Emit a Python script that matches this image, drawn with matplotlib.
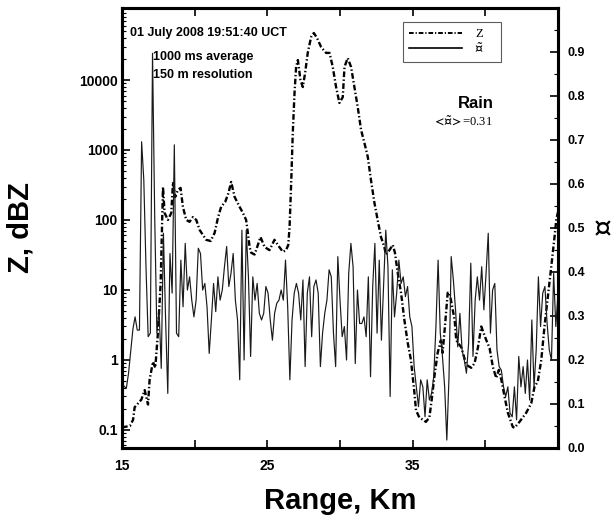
import numpy as np
import matplotlib
matplotlib.use("Agg")
import matplotlib.pyplot as plt
from matplotlib.ticker import LogLocator, MultipleLocator, NullFormatter
from matplotlib.lines import Line2D

plt.rcParams['font.family'] = ['Liberation Sans', 'DejaVu Sans']
plt.rcParams['font.weight'] = 'bold'
plt.rcParams['axes.labelweight'] = 'bold'
plt.rcParams['mathtext.fontset'] = 'stix'

# reflectivity Z (dash-dot, left log axis)
z_range = [15.0, 15.19, 15.55, 15.76, 15.87, 16.33, 16.56, 16.79, 16.90, 17.13,
           17.29, 17.47, 17.66, 17.82, 17.93, 18.16, 18.39, 18.51, 18.66, 18.85,
           19.03, 19.19, 19.42, 19.65, 19.88, 20.11, 20.34, 20.57, 20.79, 21.10,
           21.37, 21.60, 21.82, 22.10, 22.33, 22.51, 22.75, 23.09, 23.32, 23.54,
           23.66, 23.78, 23.89, 24.12, 24.30, 24.53, 24.81, 25.15, 25.49, 25.72,
           26.07, 26.29, 26.44, 26.53, 26.64, 26.75, 26.87, 26.98, 27.10, 27.28,
           27.44, 27.60, 27.78, 28.01, 28.20, 28.42, 28.70, 29.04, 29.28, 29.50,
           29.73, 29.96, 30.19, 30.31, 30.53, 30.76, 30.99, 31.22, 31.45, 31.68,
           31.91, 32.13, 32.37, 32.59, 32.82, 33.05, 33.16, 33.40, 33.63, 33.78,
           33.97, 34.20, 34.43, 34.66, 34.88, 35.12, 35.23, 35.46, 35.69, 35.91,
           36.15, 36.31, 36.49, 36.72, 36.94, 37.06, 37.22, 37.41, 37.54, 37.89,
           38.00, 38.35, 38.69, 39.03, 39.26, 39.49, 39.72, 40.07, 40.29, 40.52,
           40.75, 40.93, 41.10, 41.32, 41.55, 41.89, 42.01, 42.35, 42.81, 43.16,
           43.38, 43.61, 43.85, 44.07, 44.30, 44.53, 44.76, 44.88, 45.0]
z_vals = [0.11, 0.11, 0.114, 0.139, 0.21, 0.27, 0.37, 0.23, 0.52, 0.94,
          0.77, 2.4, 12.6, 296, 126, 100, 126, 349, 213, 269,
          287, 154, 100, 94, 110, 100, 72, 61, 52, 50,
          65, 107, 154, 181, 244, 349, 213, 154, 126, 100,
          65, 41, 34, 32, 41, 57, 41, 37, 52, 44,
          35, 37, 44, 79, 336, 1740, 6500, 15400, 19300, 10000,
          7940, 12600, 24400, 41000, 47000, 39800, 29600, 24400, 24400, 15400,
          7940, 4700, 5700, 15400, 20600, 15400, 7940, 4100, 1930, 1260,
          800, 373, 175, 100, 57, 41, 32, 37, 44, 34,
          17.5, 9.1, 3.7, 1.75, 1.0, 0.34, 0.19, 0.15, 0.14, 0.13,
          0.15, 0.27, 0.57, 1.26, 1.9, 1.26, 3.0, 9.1, 9.1, 3.7,
          1.9, 1.5, 0.85, 0.77, 0.9, 1.5, 3.0, 1.9, 1.48, 0.79,
          0.55, 0.72, 0.52, 0.30, 0.175, 0.11, 0.107, 0.13, 0.175, 0.24,
          0.41, 0.49, 1.0, 3.0, 7.9, 21, 57, 100, 130]

# F tilde (solid, right axis), one value per 150 m gate from 15 km
f_vals = [0.147, 0.14, 0.136, 0.17, 0.22, 0.27, 0.298, 0.268, 0.268, 0.696,
          0.609, 0.412, 0.253, 0.261, 0.897, 0.526, 0.261, 0.314, 0.181, 0.488,
          0.291, 0.124, 0.442, 0.352, 0.689, 0.261, 0.253, 0.427, 0.321, 0.465,
          0.359, 0.389, 0.336, 0.298, 0.336, 0.454, 0.442, 0.359, 0.374, 0.321,
          0.215, 0.291, 0.374, 0.310, 0.389, 0.336, 0.359, 0.412, 0.458, 0.367,
          0.397, 0.442,
          0.336, 0.291, 0.155, 0.495, 0.2, 0.495, 0.389, 0.208, 0.389, 0.336,
          0.374, 0.306, 0.291, 0.306, 0.367, 0.352, 0.291, 0.245, 0.306, 0.329,
          0.336, 0.359, 0.336, 0.427, 0.321, 0.155, 0.291, 0.352, 0.374, 0.352,
          0.291, 0.382, 0.185, 0.352, 0.389, 0.253, 0.367, 0.382, 0.352, 0.185,
          0.261, 0.306, 0.336, 0.405, 0.389, 0.261, 0.185, 0.435, 0.336, 0.253,
          0.276, 0.2, 0.397, 0.465, 0.412, 0.192, 0.359, 0.283, 0.283, 0.298,
          0.253, 0.389, 0.162, 0.367, 0.465, 0.261, 0.427, 0.245, 0.367, 0.495,
          0.412, 0.117, 0.405, 0.298, 0.352, 0.427, 0.374, 0.389, 0.344, 0.367,
          0.298, 0.276, 0.185, 0.139, 0.094, 0.155, 0.139, 0.071, 0.155, 0.109,
          0.124, 0.162, 0.276, 0.427, 0.261, 0.208, 0.139, 0.018, 0.162, 0.435,
          0.382, 0.314, 0.23, 0.306, 0.223, 0.2, 0.17, 0.238, 0.42, 0.208,
          0.336, 0.389, 0.336, 0.412, 0.314, 0.397, 0.488, 0.261, 0.359, 0.374,
          0.223, 0.185, 0.177, 0.139, 0.117, 0.139, 0.079, 0.071, 0.139, 0.064,
          0.208, 0.139, 0.185, 0.124, 0.2, 0.109, 0.291, 0.139, 0.223, 0.389,
          0.276, 0.352, 0.367, 0.283, 0.223, 0.2, 0.397, 0.276, 0.352, 0.245]
f_range = 15 + 0.15 * np.arange(len(f_vals))

z_ticks = [0.1, 1, 10, 100, 1000, 10000]
z_labels = ['0.1', '1', '10', '100', '1000', '10000']
f_ticks = [0.0, 0.1, 0.2, 0.3, 0.4, 0.5, 0.6, 0.7, 0.8, 0.9]
f_labels = ['0.0', '0.1', '0.2', '0.3', '0.4', '0.5', '0.6', '0.7', '0.8', '0.9']

fig = plt.figure(figsize=(6.14, 5.16), dpi=100)
ax = fig.add_axes([0.1987, 0.1318, 0.7101, 0.8527])
ax2 = ax.twinx()

zstyle = (0, (2.4, 1.0, 0.6, 1.0))
ax.plot(z_range, z_vals, color='black', lw=1.7, ls=zstyle)
ax2.plot(f_range, f_vals, color='#1a1a1a', lw=0.85)

ax.set_xlim(15, 45)
ax.set_yscale('log')
ax.set_ylim(0.055, 1.07e5)
ax2.set_ylim(0, 1.0)

ax.set_xticks([15, 25, 35])
ax.set_xticks([20, 30, 40], minor=True)
ax.tick_params(axis='x', which='both', direction='in', top=True, length=6, width=1.2,
               labelsize=10, pad=8)
ax.set_yticks(z_ticks)
ax.set_yticklabels(z_labels)
ax.yaxis.set_minor_locator(LogLocator(base=10, subs=np.arange(2, 10)))
ax.yaxis.set_minor_formatter(NullFormatter())
ax.tick_params(axis='y', which='major', direction='in', length=6, width=1.2, labelsize=10, pad=3)
ax.tick_params(axis='y', which='minor', direction='in', length=3, width=0.8)

ax2.set_yticks(f_ticks)
ax2.set_yticklabels(f_labels)
ax2.yaxis.set_minor_locator(MultipleLocator(0.05))
ax2.tick_params(axis='y', which='major', direction='in', length=6, width=1.2, labelsize=9, pad=7)
ax2.tick_params(axis='y', which='minor', direction='in', length=3, width=0.8)

for a in (ax, ax2):
    for s in a.spines.values():
        s.set_linewidth(2.2)

ax.set_xlabel('Range, Km', fontsize=21, labelpad=10)
ax.set_ylabel('Z, dBZ', fontsize=21, va='center', ha='center')
ax.yaxis.set_label_coords(-0.232, 0.5)
ax2.set_ylabel(r'$\tilde{\mathfrak{F}}$', fontsize=20, rotation=-90,
               va='center', ha='center')
ax2.yaxis.set_label_coords(1.1, 0.5)

ax.text(0.018, 0.943, '01 July 2008 19:51:40 UCT', transform=ax.transAxes,
        fontsize=9, va='center', ha='left')
ax.text(0.071, 0.889, '1000 ms average', transform=ax.transAxes,
        fontsize=9, va='center', ha='left')
ax.text(0.071, 0.848, '150 m resolution', transform=ax.transAxes,
        fontsize=9, va='center', ha='left')
ax.text(0.853, 0.784, 'Rain', transform=ax.transAxes,
        fontsize=12, va='center', ha='right')
ax.text(0.851, 0.741, r'$<\!\tilde{\mathfrak{F}}\!>$=0.31', transform=ax.transAxes,
        fontsize=9, va='center', ha='right', family='Liberation Serif', weight='normal')

handles = [Line2D([], [], color='black', lw=1.4, ls=zstyle),
           Line2D([], [], color='black', lw=1.2)]
leg = ax2.legend(handles, ['Z', r'$\tilde{\mathfrak{F}}$'], loc='upper left',
                 bbox_to_anchor=(0.644, 0.877, 0.225, 0.091), mode='expand',
                 borderaxespad=0, frameon=True,
                 fancybox=False, handlelength=4.2, handletextpad=1.1,
                 labelspacing=0.1, borderpad=0.5,
                 prop={'family': 'Liberation Serif', 'weight': 'normal', 'size': 9})
leg.get_frame().set_edgecolor('#333333')
leg.get_frame().set_linewidth(0.8)

fig.savefig('out.png', dpi=100)
